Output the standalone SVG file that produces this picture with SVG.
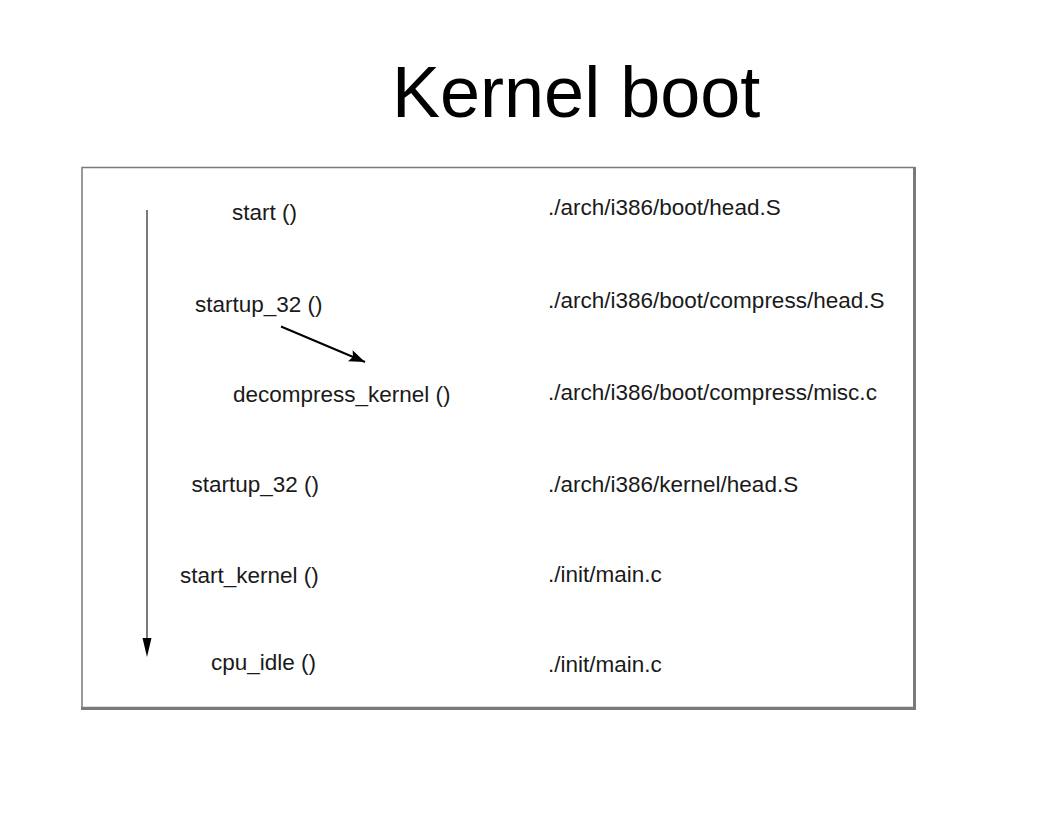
<svg xmlns="http://www.w3.org/2000/svg" width="1048" height="813" viewBox="0 0 1048 813">
  <style>
    .t { font-family: "Liberation Sans", Arial, sans-serif; font-size: 22.5px; fill: #1a1a1a; }
    .title { font-family: "Liberation Sans", Arial, sans-serif; font-size: 72px; fill: #000; }
  </style>
  <defs>
    <marker id="ah" markerWidth="10" markerHeight="10" refX="9" refY="5" orient="auto" markerUnits="userSpaceOnUse" viewBox="0 0 10 10">
      <path d="M0,0 L10,5 L0,10 Z" fill="#000"/>
    </marker>
    <marker id="ah2" markerWidth="16" markerHeight="12" refX="16" refY="6" orient="auto" markerUnits="userSpaceOnUse" viewBox="0 0 16 12">
      <path d="M0,0 L16,6 L0,12 L3,6 Z" fill="#000"/>
    </marker>
  </defs>
  <rect width="1048" height="813" fill="#fff"/>
  <text class="title" x="392" y="117">Kernel boot</text>

  <g id="frame">
    <rect x="82" y="167.5" width="832" height="540" fill="none" stroke="#7a7a7a" stroke-width="1.5"/>
    <line x1="914.5" y1="167" x2="914.5" y2="709.5" stroke="#7a7a7a" stroke-width="3"/>
    <line x1="81" y1="708.5" x2="916" y2="708.5" stroke="#7a7a7a" stroke-width="3"/>
  </g>

  <g id="connectors">
    <line x1="147" y1="210" x2="147" y2="642" stroke="#7a7a7a" stroke-width="2"/>
    <path d="M142.5,638 L151.5,638 L147,657 Z" fill="#000"/>
    <line x1="281" y1="326.5" x2="365" y2="362" stroke="#000" stroke-width="2" marker-end="url(#ah2)"/>
  </g>

  <g id="start"><text class="t" x="232" y="220">start ()</text></g>
  <g id="startup32a"><text class="t" x="195" y="311.5">startup_32 ()</text></g>
  <g id="decompress"><text class="t" x="233" y="401.5">decompress_kernel ()</text></g>
  <g id="startup32b"><text class="t" x="191.5" y="491.5">startup_32 ()</text></g>
  <g id="startkernel"><text class="t" x="180" y="583">start_kernel ()</text></g>
  <g id="cpuidle"><text class="t" x="211" y="670">cpu_idle ()</text></g>

  <g id="file1"><text class="t" x="548" y="215">./arch/i386/boot/head.S</text></g>
  <g id="file2"><text class="t" x="548" y="307.5">./arch/i386/boot/compress/head.S</text></g>
  <g id="file3"><text class="t" x="548" y="399.5">./arch/i386/boot/compress/misc.c</text></g>
  <g id="file4"><text class="t" x="548" y="491.5">./arch/i386/kernel/head.S</text></g>
  <g id="file5"><text class="t" x="548" y="582">./init/main.c</text></g>
  <g id="file6"><text class="t" x="548" y="672">./init/main.c</text></g>
</svg>
